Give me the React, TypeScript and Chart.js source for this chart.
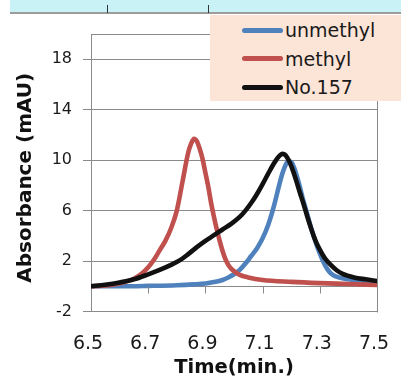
import React, { useEffect, useRef } from "react";
import { Chart, registerables } from "chart.js";

Chart.register(...registerables);

const xTicks = [6.5, 6.7, 6.9, 7.1, 7.3, 7.5];
const yTicks = [-2, 2, 6, 10, 14, 18];
const axisTickXs = [6.7, 6.9, 7.1, 7.3];

const unmethylX = [6.5, 6.6, 6.7, 6.8, 6.86, 6.9, 6.93, 6.96, 6.98, 7.0, 7.02, 7.04, 7.06, 7.08, 7.1, 7.12, 7.14, 7.16, 7.17, 7.18, 7.19, 7.2, 7.21, 7.22, 7.23, 7.24, 7.25, 7.26, 7.27, 7.28, 7.29, 7.3, 7.31, 7.32, 7.33, 7.34, 7.36, 7.4, 7.45, 7.5];
const unmethylY = [0.0, 0.0, 0.03, 0.08, 0.15, 0.22, 0.33, 0.5, 0.7, 0.95, 1.3, 1.8, 2.4, 3.0, 3.8, 4.9, 6.4, 8.2, 9.0, 9.6, 9.9, 9.85, 9.4, 8.7, 7.9, 7.0, 6.2, 5.4, 4.6, 3.9, 3.2, 2.6, 2.05, 1.6, 1.25, 1.0, 0.75, 0.55, 0.45, 0.3];

const methylX = [6.5, 6.54, 6.58, 6.62, 6.65, 6.68, 6.7, 6.72, 6.74, 6.76, 6.78, 6.8, 6.82, 6.84, 6.85, 6.86, 6.87, 6.88, 6.89, 6.9, 6.91, 6.92, 6.93, 6.94, 6.95, 6.96, 6.97, 6.98, 6.99, 7.0, 7.02, 7.05, 7.1, 7.2, 7.3, 7.4, 7.5];
const methylY = [0.0, 0.05, 0.15, 0.35, 0.6, 1.05, 1.5, 2.1, 2.85, 3.6, 4.6, 6.0, 8.3, 10.6, 11.3, 11.7, 11.5, 10.9, 10.1, 9.0, 7.9, 6.6, 5.5, 4.5, 3.6, 2.8, 2.15, 1.7, 1.4, 1.2, 0.9, 0.7, 0.5, 0.35, 0.25, 0.18, 0.1];

const no157X = [6.5, 6.55, 6.6, 6.65, 6.7, 6.74, 6.78, 6.81, 6.84, 6.87, 6.9, 6.93, 6.96, 6.99, 7.02, 7.04, 7.06, 7.08, 7.1, 7.12, 7.14, 7.155, 7.17, 7.18, 7.19, 7.2, 7.21, 7.22, 7.23, 7.24, 7.25, 7.26, 7.27, 7.28, 7.29, 7.3, 7.31, 7.32, 7.34, 7.36, 7.38, 7.42, 7.46, 7.5];
const no157Y = [0.0, 0.12, 0.3, 0.55, 0.95, 1.3, 1.7, 2.05, 2.55, 3.1, 3.6, 4.05, 4.5, 4.95, 5.5, 6.0, 6.6, 7.3, 8.1, 8.95, 9.75, 10.25, 10.5, 10.4, 10.05, 9.55, 8.9, 8.2, 7.45, 6.75, 6.0, 5.25, 4.55, 3.9, 3.35, 2.9, 2.5, 2.15, 1.65, 1.25, 0.98, 0.7, 0.55, 0.42];

const seriesNames = ["unmethyl", "methyl", "No.157"];
const seriesColors = ["#4f81bd", "#c0504d", "#111111"];

const GRID = "#8a8a8a";
const FONT = "'DejaVu Sans', Verdana, sans-serif";

function pts(xs: number[], ys: number[]) {
  return xs.map((x, i) => ({ x, y: ys[i] }));
}

const framePlugin = {
  id: "frame",
  afterDraw(chart: any) {
    const { ctx, chartArea } = chart;
    const xs = chart.scales.x;
    const ys = chart.scales.y;
    ctx.save();
    ctx.strokeStyle = GRID;
    ctx.lineWidth = 1;
    ctx.beginPath();
    const top = Math.round(chartArea.top) + 0.5;
    const right = Math.round(chartArea.right) + 0.5;
    ctx.moveTo(Math.round(chartArea.left) + 0.5, top);
    ctx.lineTo(right, top);
    ctx.moveTo(right, top);
    ctx.lineTo(right, Math.round(chartArea.bottom) + 0.5);
    ctx.stroke();
    const y0 = Math.round(ys.getPixelForValue(0)) + 0.5;
    ctx.beginPath();
    axisTickXs.forEach((v) => {
      const px = Math.round(xs.getPixelForValue(v)) + 0.5;
      ctx.moveTo(px, y0);
      ctx.lineTo(px, y0 + 7);
    });
    ctx.stroke();
    ctx.restore();
  },
};

const axisUnderPlugin = {
  id: "axisUnder",
  beforeDatasetsDraw(chart: any) {
    const { ctx, chartArea } = chart;
    const ys = chart.scales.y;
    const y0 = Math.round(ys.getPixelForValue(0)) + 0.5;
    ctx.save();
    ctx.strokeStyle = GRID;
    ctx.lineWidth = 1;
    ctx.beginPath();
    ctx.moveTo(chartArea.left, y0);
    ctx.lineTo(chartArea.right, y0);
    ctx.stroke();
    ctx.restore();
  },
};

function ChartView() {
  const ref = useRef<HTMLCanvasElement | null>(null);
  useEffect(() => {
    if (!ref.current) return;
    const data = [pts(unmethylX, unmethylY), pts(methylX, methylY), pts(no157X, no157Y)];
    const orders = [2, 1, 0];
    const chart = new Chart(ref.current, {
      type: "line",
      data: {
        datasets: data.map((d, i) => ({
          label: seriesNames[i],
          data: d,
          borderColor: seriesColors[i],
          backgroundColor: seriesColors[i],
          borderWidth: 4.6,
          pointRadius: 0,
          fill: false,
          cubicInterpolationMode: "monotone" as const,
          borderCapStyle: "round" as const,
          borderJoinStyle: "round" as const,
          order: orders[i],
        })),
      },
      options: {
        animation: false,
        responsive: false,
        devicePixelRatio: 1,
        layout: { padding: { top: 34, right: 24, left: 0, bottom: 0 } },
        plugins: { legend: { display: false }, tooltip: { enabled: false } },
        scales: {
          x: {
            type: "linear",
            min: 6.5,
            max: 7.5,
            afterBuildTicks: (s: any) => {
              s.ticks = xTicks.map((v) => ({ value: v }));
            },
            afterFit: (s: any) => {
              s.height = 74.5;
              s.paddingLeft = 0;
              s.paddingRight = 0;
            },
            grid: { display: false },
            border: { display: false },
            ticks: {
              autoSkip: false,
              maxRotation: 0,
              padding: 13,
              labelOffset: -3,
              color: "#1a1a1a",
              font: { family: FONT, size: 19 },
              callback: (v: any) => Number(v).toFixed(1),
            },
            title: {
              display: true,
              text: "Time(min.)",
              color: "#111",
              font: { family: FONT, size: 19.5, weight: "bold" },
              padding: { top: 0, bottom: 6 },
            },
          },
          y: {
            type: "linear",
            min: -2,
            max: 20,
            afterBuildTicks: (s: any) => {
              s.ticks = yTicks.map((v) => ({ value: v }));
            },
            afterFit: (s: any) => {
              s.width = 91;
              s.paddingTop = 0;
              s.paddingBottom = 0;
            },
            grid: { color: GRID, lineWidth: 1, tickLength: 8, drawTicks: true },
            border: { display: true, color: GRID, width: 1 },
            ticks: {
              autoSkip: false,
              padding: 11,
              color: "#1a1a1a",
              font: { family: FONT, size: 16 },
            },
            title: {
              display: true,
              text: "Absorbance (mAU)\u2002",
              color: "#111",
              font: { family: FONT, size: 20, weight: "bold" },
              padding: { top: 14, bottom: 0 },
            },
          },
        },
      },
      plugins: [axisUnderPlugin, framePlugin],
    });
    return () => chart.destroy();
  }, []);
  return <canvas ref={ref} width={401} height={386} style={{ display: "block", width: 401, height: 386 }} />;
}

export default function App() {
  useEffect(() => {
    document.body.style.margin = "0";
  }, []);
  return (
    <div style={{ position: "relative", width: 401, height: 386, background: "#ffffff", overflow: "hidden" }}>
      <ChartView />
      <div style={{ position: "absolute", left: 10, top: 0, width: 391, height: 12, background: "#c8f2f5", borderBottom: "2px solid #9c9c9c" }} />
      <div style={{ position: "absolute", left: 107, top: 5, width: 1, height: 8, background: "#333" }} />
      <div style={{ position: "absolute", left: 208, top: 5, width: 1, height: 8, background: "#333" }} />
      <div style={{ position: "absolute", left: 210, top: 15, width: 191, height: 86, background: "#fce4d6" }}>
        {seriesNames.map((name, i) => (
          <div key={name} style={{ position: "absolute", left: 32, top: 3 + i * 28.5, height: 24, display: "flex", alignItems: "center" }}>
            <span style={{ display: "inline-block", width: 41, height: 5, borderRadius: 2.5, background: seriesColors[i] }} />
            <span style={{ marginLeft: 2, font: `19px ${FONT}`, color: "#1a1a1a", whiteSpace: "nowrap" }}>{name}</span>
          </div>
        ))}
      </div>
    </div>
  );
}
